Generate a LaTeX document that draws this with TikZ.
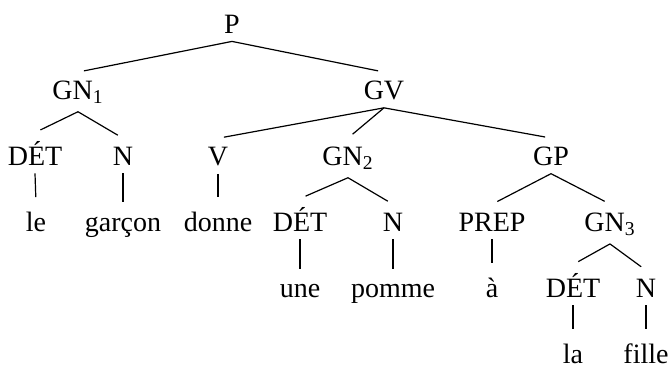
\documentclass[tikz,border=0pt]{standalone}
\usepackage{fontspec}
\setmainfont{Liberation Serif}
\usepackage{tikz}
\usetikzlibrary{positioning}

\begin{document}
\begin{tikzpicture}[
    x=0.5pt, y=-0.5pt,
    cat/.style={anchor=base, inner sep=4pt, font=\fontsize{14}{17}\selectfont},
    branch/.style={line width=0.6pt, shorten >=3pt}
]
\useasboundingbox (0,0) rectangle (670,366);

% levels of the tree
\node[cat] (p) at (232,33) {P};

\node[cat] (gnone) at (78,99) {GN\textsubscript{1}};
\node[cat] (gv) at (384,99) {GV};

\node[cat] (detone) at (35,165) {DÉT};
\node[cat] (none) at (123,165) {N};
\node[cat] (v) at (218,165) {V};
\node[cat] (gntwo) at (348,165) {GN\textsubscript{2}};
\node[cat] (gp) at (551,165) {GP};

\node[cat] (le) at (36,231) {le};
\node[cat] (garcon) at (123,231) {garçon};
\node[cat] (donne) at (218,231) {donne};
\node[cat] (dettwo) at (300,231) {DÉT};
\node[cat] (ntwo) at (393,231) {N};
\node[cat] (prep) at (492,231) {PREP};
\node[cat] (gnthree) at (610,231) {GN\textsubscript{3}};

\node[cat] (une) at (300,297) {une};
\node[cat] (pomme) at (393,297) {pomme};
\node[cat] (a) at (492,297) {à};
\node[cat] (detthree) at (573,297) {DÉT};
\node[cat] (nthree) at (646,297) {N};

\node[cat] (la) at (573,363) {la};
\node[cat] (fille) at (646,363) {fille};

% branches
\draw[branch] (p.south) -- (gnone.north);
\draw[branch] (p.south) -- (gv.north);
\draw[branch] (gnone.south) -- (detone.north);
\draw[branch] (gnone.south) -- (none.north);
\draw[branch] (gv.south) -- (v.north);
\draw[branch] (gv.south) -- (gntwo.north);
\draw[branch] (gv.south) -- (gp.north);
\draw[branch] (detone.south) -- (le.north);
\draw[branch] (none.south) -- (garcon.north);
\draw[branch] (v.south) -- (donne.north);
\draw[branch] (gntwo.south) -- (dettwo.north);
\draw[branch] (gntwo.south) -- (ntwo.north);
\draw[branch] (gp.south) -- (prep.north);
\draw[branch] (gp.south) -- (gnthree.north);
\draw[branch] (dettwo.south) -- (une.north);
\draw[branch] (ntwo.south) -- (pomme.north);
\draw[branch] (prep.south) -- (a.north);
\draw[branch] (gnthree.south) -- (detthree.north);
\draw[branch] (gnthree.south) -- (nthree.north);
\draw[branch] (detthree.south) -- (la.north);
\draw[branch] (nthree.south) -- (fille.north);

\end{tikzpicture}
\end{document}
